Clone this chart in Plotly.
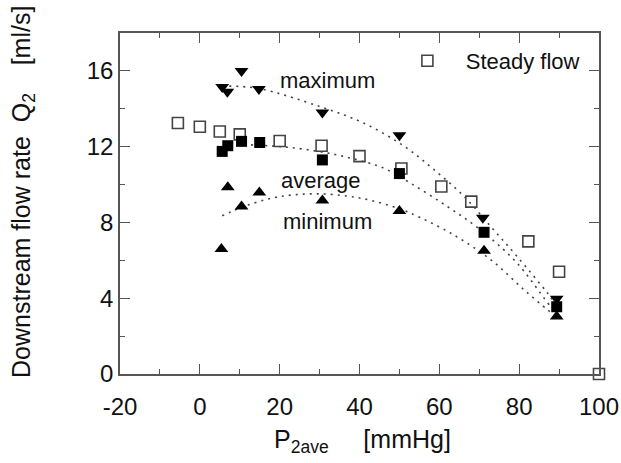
import plotly.graph_objects as go

# Steady flow (open squares)
steady_x = [-5.5, 0, 5, 10, 20, 30.5, 40, 50.5, 60.5, 68, 82.3, 90, 100]
steady_y = [13.25, 13.05, 12.8, 12.65, 12.3, 12.05, 11.5, 10.85, 9.9, 9.1, 7.0, 5.4, 0.0]

# Pulsatile maximum (down triangles)
max_x = [5.6, 6.9, 10.45, 14.8, 30.7, 50.0, 70.9, 89.4]
max_y = [15.15, 14.9, 16.0, 15.05, 13.8, 12.6, 8.25, 3.97]

# Pulsatile average (filled squares)
avg_x = [5.6, 7.0, 10.45, 15.0, 30.7, 50.0, 71.2, 89.4]
avg_y = [11.75, 12.05, 12.28, 12.22, 11.3, 10.58, 7.48, 3.55]

# Pulsatile minimum (up triangles)
min_x = [5.4, 7.0, 10.45, 14.9, 30.7, 50.0, 71.2, 89.4]
min_y = [6.6, 9.86, 8.84, 9.58, 9.16, 8.6, 6.5, 3.04]

# Dotted fit curves
max_fit_x = [5.6, 14.4, 30.3, 41.0, 51.0, 58.6, 66.2, 72.9, 79.5, 87.1, 88.9]
max_fit_y = [15.2, 15.08, 14.1, 13.25, 12.05, 10.8, 9.37, 7.78, 6.2, 4.27, 3.75]
avg_fit_x = [5.8, 17.7, 26.0, 36.1, 46.1, 52.8, 62.0, 70.3, 79.5, 87.9, 88.9]
avg_fit_y = [12.15, 12.04, 11.87, 11.48, 10.86, 10.07, 8.84, 7.61, 5.85, 3.57, 3.4]
min_fit_x = [5.6, 11.0, 19.4, 29.4, 40.3, 49.5, 52.8, 62.8, 72.9, 81.2, 87.1, 88.3]
min_fit_y = [8.35, 8.84, 9.34, 9.51, 9.28, 8.76, 8.49, 7.44, 6.03, 4.45, 3.39, 3.2]

x_ticks = [-20, 0, 20, 40, 60, 80, 100]
y_ticks = [0, 4, 8, 12, 16]

FONT = "Liberation Sans, Arial, Helvetica, sans-serif"
INK = "#111111"
AXIS = "#555555"
DOT = "2px,5px"
NB = "\u00a0"

fig = go.Figure()

for fx, fy in [(max_fit_x, max_fit_y), (avg_fit_x, avg_fit_y), (min_fit_x, min_fit_y)]:
    fig.add_trace(go.Scatter(x=fx, y=fy, mode="lines", showlegend=False,
                             line=dict(color="#444444", width=1.6, dash=DOT, shape="spline"),
                             hoverinfo="skip"))

fig.add_trace(go.Scatter(x=steady_x, y=steady_y, mode="markers", name=NB * 3 + "Steady flow",
                         marker=dict(symbol="square-open", size=11, color="#444444",
                                     line=dict(width=1.6, color="#444444")),
                         cliponaxis=False))
fig.add_trace(go.Scatter(x=max_x, y=max_y, mode="markers", showlegend=False,
                         marker=dict(symbol="triangle-down", size=12, color="black")))
fig.add_trace(go.Scatter(x=avg_x, y=avg_y, mode="markers", showlegend=False,
                         marker=dict(symbol="square", size=11, color="black")))
fig.add_trace(go.Scatter(x=min_x, y=min_y, mode="markers", showlegend=False,
                         marker=dict(symbol="triangle-up", size=12, color="black")))

axis_common = dict(
    showline=True, linecolor=AXIS, linewidth=1.5, mirror="ticks",
    ticks="inside", ticklen=10, tickwidth=1.3, tickcolor=AXIS,
    showgrid=False, zeroline=False, automargin=False,
    tickfont=dict(family=FONT, size=24, color=INK),
)

fig.update_xaxes(range=[-20, 100], tickvals=x_ticks, ticktext=[str(v) for v in x_ticks],
                 ticklabelstandoff=10,
                 minor=dict(dtick=10, ticks="inside", ticklen=5, tickwidth=1.3, tickcolor=AXIS,
                            showgrid=False),
                 **axis_common)
fig.update_yaxes(range=[0, 18], tickvals=y_ticks, ticktext=[str(v) for v in y_ticks],
                 minor=dict(dtick=2, ticks="inside", ticklen=5, tickwidth=1.3, tickcolor=AXIS,
                            showgrid=False),
                 **axis_common)

ann_font = dict(family=FONT, size=22, color=INK)
fig.add_annotation(x=32.1, y=15.5, text="maximum", showarrow=False, font=ann_font)
fig.add_annotation(x=30.3, y=10.2, text="average", showarrow=False, font=ann_font)
fig.add_annotation(x=31.9, y=8.05, text="minimum", showarrow=False, font=ann_font)

fig.add_annotation(xref="paper", yref="paper", x=(362 - 119.5) / 479.5, y=(374.3 - 441) / 341.3,
                   xanchor="center", yanchor="middle", showarrow=False,
                   text="P<sub>2ave</sub>" + NB * 5 + "[mmHg]",
                   font=dict(family=FONT, size=25, color=INK))
fig.add_annotation(xref="paper", yref="paper", x=(23 - 119.5) / 479.5, y=(374.3 - 192.5) / 341.3,
                   xanchor="center", yanchor="middle", showarrow=False, textangle=-90,
                   text="Downstream flow rate" + NB * 2 + "Q<sub>2</sub>" + NB * 4 + "[ml/s]",
                   font=dict(family=FONT, size=25, color=INK))

fig.update_layout(
    width=621, height=463,
    margin=dict(l=119.5, r=22, t=33, b=88.7, autoexpand=False),
    paper_bgcolor="white", plot_bgcolor="white",
    showlegend=True,
    legend=dict(x=0.6, y=0.918, xanchor="left", yanchor="middle",
                bgcolor="rgba(0,0,0,0)", borderwidth=0,
                font=dict(family=FONT, size=22, color=INK)),
)

fig.write_html("out.html")
